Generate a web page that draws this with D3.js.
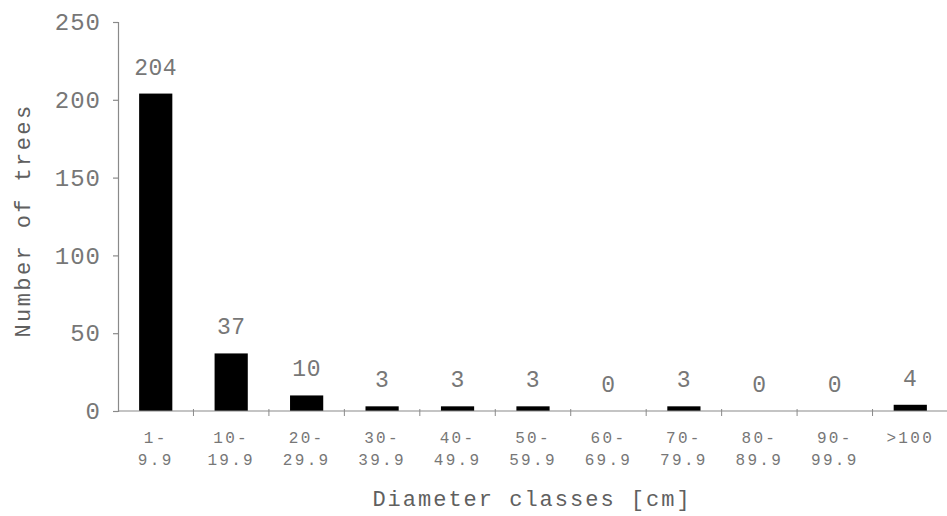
<!DOCTYPE html>
<html>
<head>
<meta charset="utf-8">
<script src="https://cdn.jsdelivr.net/npm/d3@7"></script>
<style>
  html, body { margin: 0; padding: 0; background: #fff; }
  svg { display: block; }
  text { font-family: "Liberation Mono", "DejaVu Sans Mono", monospace; }
</style>
</head>
<body>
<svg id="chart" width="947" height="516"></svg>
<script>
// ---- data ----
const categories = ["1-9.9", "10-19.9", "20-29.9", "30-39.9", "40-49.9", "50-59.9",
                    "60-69.9", "70-79.9", "80-89.9", "90-99.9", ">100"];
const labelTop    = ["1-", "10-", "20-", "30-", "40-", "50-", "60-", "70-", "80-", "90-", ">100"];
const labelBottom = ["9.9", "19.9", "29.9", "39.9", "49.9", "59.9", "69.9", "79.9", "89.9", "99.9", ""];
const treeCounts  = [204, 37, 10, 3, 3, 3, 0, 3, 0, 0, 4];
const yTicks      = [0, 50, 100, 150, 200, 250];
const xTitle = "Diameter classes [cm]";
const yTitle = "Number of trees";

// ---- layout ----
const svg = d3.select("#chart");
const plotLeft = 118, plotRight = 948, plotTop = 22, plotBottom = 411;
const axisColor = "#8a8a8a";
const textColor = "#777777";

const x = d3.scaleBand().domain(categories).range([plotLeft, plotRight]).padding(0);
const y = d3.scaleLinear().domain([0, 250]).range([plotBottom, plotTop]);
const barW = x.bandwidth() * 0.44;

// bars
svg.append("g").selectAll("rect")
  .data(treeCounts)
  .join("rect")
  .attr("x", (d, i) => x(categories[i]) + x.bandwidth() / 2 - barW / 2)
  .attr("y", d => y(d))
  .attr("width", barW)
  .attr("height", d => Math.max(0, y(0) - y(d)))
  .attr("fill", "#000");

// y axis
const yAxis = svg.append("g")
  .attr("transform", `translate(${plotLeft},0)`)
  .call(d3.axisLeft(y).tickValues(yTicks).tickSize(5).tickPadding(12));
yAxis.select(".domain").attr("stroke", axisColor).attr("stroke-width", 1.2);
yAxis.selectAll(".tick line").attr("stroke", axisColor).attr("stroke-width", 1.2);
yAxis.selectAll(".tick text")
  .attr("fill", textColor)
  .style("font-size", "24px")
  .style("font-family", "Liberation Mono, monospace")
  .style("letter-spacing", "1px");

// x axis line and boundary ticks
const xg = svg.append("g");
xg.append("line")
  .attr("x1", plotLeft).attr("x2", plotRight)
  .attr("y1", y(0)).attr("y2", y(0))
  .attr("stroke", axisColor).attr("stroke-width", 1.2);
const boundaries = categories.map(c => x(c)).slice(1);
xg.selectAll("line.bt")
  .data(boundaries)
  .join("line")
  .attr("class", "bt")
  .attr("x1", d => d).attr("x2", d => d)
  .attr("y1", y(0) - 2).attr("y2", y(0) + 5)
  .attr("stroke", axisColor).attr("stroke-width", 1);

// category labels
const cx = i => x(categories[i]) + x.bandwidth() / 2;
xg.selectAll("text.l1")
  .data(labelTop)
  .join("text")
  .attr("class", "l1")
  .attr("x", (d, i) => cx(i))
  .attr("y", 443)
  .attr("text-anchor", "middle")
  .attr("fill", textColor)
  .style("font-size", "16px")
  .style("letter-spacing", "2.3px")
  .text(d => d);
xg.selectAll("text.l2")
  .data(labelBottom)
  .join("text")
  .attr("class", "l2")
  .attr("x", (d, i) => cx(i))
  .attr("y", 465)
  .attr("text-anchor", "middle")
  .attr("fill", textColor)
  .style("font-size", "16px")
  .style("letter-spacing", "2.3px")
  .text(d => d);

// value labels
svg.append("g").selectAll("text")
  .data(treeCounts)
  .join("text")
  .attr("x", (d, i) => cx(i))
  .attr("y", d => y(d) - 19)
  .attr("text-anchor", "middle")
  .attr("fill", textColor)
  .style("font-size", "23px")
  .style("letter-spacing", "0.5px")
  .text(d => d);

// axis titles
svg.append("text")
  .attr("x", 532)
  .attr("y", 506)
  .attr("text-anchor", "middle")
  .attr("fill", "#606060")
  .style("font-size", "22px")
  .style("letter-spacing", "2px")
  .text(xTitle);

svg.append("text")
  .attr("transform", `translate(30,${(plotTop + plotBottom) / 2 + 4}) rotate(-90)`)
  .attr("text-anchor", "middle")
  .attr("fill", "#606060")
  .style("font-size", "22px")
  .style("letter-spacing", "2.4px")
  .text(yTitle);
</script>
</body>
</html>
